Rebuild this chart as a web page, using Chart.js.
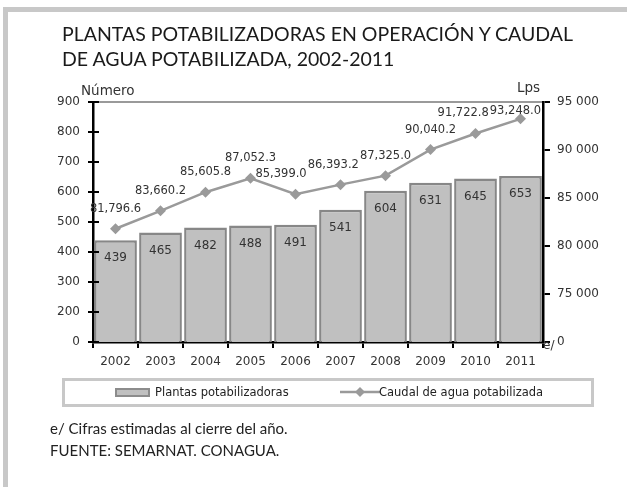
<!DOCTYPE html>
<html lang="es">
<head>
    <meta charset="UTF-8">
    <title>Plantas potabilizadoras</title>
    <script src="https://cdn.jsdelivr.net/npm/chart.js"></script>
    <style>
        body { margin: 0; background: #fff; }
        #page { position: relative; width: 627px; height: 487px; overflow: hidden; }
        #frame { position: absolute; left: 3px; top: 7px; right: 0; bottom: 0;
                 border-top: 5px solid #c8c8c8; border-left: 5px solid #c8c8c8; }
        canvas { position: absolute; left: 0; top: 0; }
        .txt { position: absolute; color: #222; white-space: nowrap; }
        #title { left: 62px; top: 21px; font-family: Lato, sans-serif; font-size: 19.5px; line-height: 25px; color: #1a1a1a; }
        #unitL { left: 81px; top: 82px; font-family: "DejaVu Sans", sans-serif; font-size: 13.5px; color: #333; }
        #unitR { left: 517px; top: 79px; font-family: "DejaVu Sans", sans-serif; font-size: 13.5px; color: #333; }
        #est { left: 543px; top: 338px; font-family: "DejaVu Sans", sans-serif; font-size: 12px; color: #333; }
        #legend { position: absolute; left: 62px; top: 378px; width: 526px; height: 23px;
                  border: 3px solid #c8c8c8; }
        .lg { position: absolute; top: 4px; font-family: "DejaVu Sans", sans-serif; font-size: 11.5px; color: #222; }
        #notes { left: 50px; top: 417px; font-family: Lato, sans-serif; font-size: 15px; line-height: 22px; color: #222; }
    </style>
</head>
<body>
<div id="page">
    <div id="frame"></div>
    <canvas id="chart" width="627" height="487"></canvas>
    <div class="txt" id="title">PLANTAS POTABILIZADORAS EN OPERACIÓN Y CAUDAL<br>DE AGUA POTABILIZADA, 2002-2011</div>
    <div class="txt" id="unitL">Número</div>
    <div class="txt" id="unitR">Lps</div>
    <div class="txt" id="est">e/</div>
    <div id="legend">
        <span style="position:absolute;left:50px;top:7px;width:31px;height:5px;background:#c0c0c0;border:2px solid #8c8c8c;"></span>
        <span class="lg" style="left:90px;">Plantas potabilizadoras</span>
        <svg style="position:absolute;left:275px;top:3px;" width="40" height="16">
            <line x1="0" y1="8" x2="40" y2="8" stroke="#9a9a9a" stroke-width="2.5"/>
            <polygon points="20,3 25,8 20,13 15,8" fill="#9a9a9a"/>
        </svg>
        <span class="lg" style="left:314px;">Caudal de agua potabilizada</span>
    </div>
    <div class="txt" id="notes">e/ Cifras estimadas al cierre del año.<br>FUENTE: SEMARNAT. CONAGUA.</div>
</div>

<script>
    // data
    const years = ['2002', '2003', '2004', '2005', '2006', '2007', '2008', '2009', '2010', '2011'];
    const plantas = [439, 465, 482, 488, 491, 541, 604, 631, 645, 653];
    const caudal = [81796.6, 83660.2, 85605.8, 87052.3, 85399.0, 86393.2, 87325.0, 90040.2, 91722.8, 93248.0];

    // both axes are broken: the lowest tick is labelled 0
    const leftMin = 100, leftMax = 900, leftStep = 100;
    const rightMin = 70000, rightMax = 95000, rightStep = 5000;

    const tickFont = { family: 'DejaVu Sans', size: 12 };

    function fmtSpace(v) {
        return String(v).replace(/\B(?=(\d{3})+(?!\d))/g, ' ');
    }

    // value labels + inner tick marks on the left axis
    const labelsPlugin = {
        id: 'labels',
        afterDatasetsDraw(chart) {
            const ctx = chart.ctx;
            const area = chart.chartArea;
            ctx.save();
            ctx.fillStyle = '#333';
            ctx.textAlign = 'center';
            ctx.textBaseline = 'middle';

            const bars = chart.getDatasetMeta(1).data;
            ctx.font = '12px "DejaVu Sans"';
            bars.forEach((el, i) => {
                ctx.fillText(String(plantas[i]), el.x, el.y + 18);
            });

            const pts = chart.getDatasetMeta(0).data;
            ctx.font = '11.5px "DejaVu Sans"';
            const labs = pts.map((el, i) => {
                const s = caudal[i].toLocaleString('en-US', { minimumFractionDigits: 1, maximumFractionDigits: 1 });
                const w = ctx.measureText(s).width;
                let x = el.x;
                if (x + w / 2 > area.right - 2) x = area.right - 2 - w / 2;
                // keep the label below the top border of the plot
                const y = Math.max(el.y - 20, area.top + 9);
                return { s, w, x, y };
            });
            // push labels left when they run into the next one
            for (let i = labs.length - 2; i >= 0; i--) {
                const a = labs[i], b = labs[i + 1];
                if (Math.abs(a.y - b.y) < 12) {
                    const over = (a.x + a.w / 2) - (b.x - b.w / 2) + 1;
                    if (over > 0) a.x -= over;
                }
            }
            labs.forEach(l => ctx.fillText(l.s, l.x, l.y));

            // short marks inside the left axis
            const y = chart.scales.y;
            ctx.strokeStyle = '#000';
            ctx.lineWidth = 2;
            y.ticks.forEach((t, i) => {
                const py = y.getPixelForTick(i);
                ctx.beginPath();
                ctx.moveTo(area.left, py);
                ctx.lineTo(area.left + 6, py);
                ctx.stroke();
            });
            ctx.restore();
        }
    };

    new Chart(document.getElementById('chart'), {
        data: {
            labels: years,
            datasets: [{
                type: 'line',
                label: 'Caudal de agua potabilizada',
                data: caudal,
                yAxisID: 'y1',
                borderColor: '#9a9a9a',
                backgroundColor: '#9a9a9a',
                borderWidth: 2.5,
                pointStyle: 'rectRot',
                pointRadius: 5.5,
                pointBorderWidth: 0,
                pointBackgroundColor: '#9a9a9a',
                tension: 0,
                order: 0
            }, {
                type: 'bar',
                label: 'Plantas potabilizadoras',
                data: plantas,
                yAxisID: 'y',
                backgroundColor: '#c0c0c0',
                borderColor: '#878787',
                borderWidth: 2.5,
                categoryPercentage: 0.95,
                barPercentage: 1,
                clip: 0,
                order: 1
            }]
        },
        options: {
            responsive: false,
            animation: false,
            layout: { padding: { left: 0, right: 0, top: 102, bottom: 115 } },
            plugins: { legend: { display: false }, tooltip: { enabled: false } },
            scales: {
                x: {
                    offset: true,
                    grid: { offset: true, drawOnChartArea: false, color: '#000', lineWidth: 2, tickLength: 6 },
                    border: { color: '#000', width: 2.5 },
                    ticks: { font: tickFont, color: '#333', padding: 7, maxRotation: 0 },
                    afterFit(s) { s.height = 30; }
                },
                y: {
                    position: 'left',
                    min: leftMin, max: leftMax,
                    ticks: {
                        stepSize: leftStep, font: tickFont, color: '#333', padding: 8,
                        callback: v => (v === leftMin ? '0' : v)
                    },
                    grid: {
                        color: c => (c.tick && c.tick.value === leftMax ? '#9a9a9a' : 'rgba(0,0,0,0)'),
                        lineWidth: 2,
                        tickColor: '#000',
                        tickLength: 5
                    },
                    border: { color: '#000', width: 2.5 },
                    afterFit(s) { s.width = 93; }
                },
                y1: {
                    position: 'right',
                    min: rightMin, max: rightMax,
                    ticks: {
                        stepSize: rightStep, font: tickFont, color: '#333', padding: 7,
                        callback: v => (v === rightMin ? '0' : fmtSpace(v))
                    },
                    grid: { drawOnChartArea: false, color: '#000', lineWidth: 2, tickLength: 7 },
                    border: { color: '#000', width: 2.5 },
                    afterFit(s) { s.width = 84; }
                }
            }
        },
        plugins: [labelsPlugin]
    });
</script>
</body>
</html>
